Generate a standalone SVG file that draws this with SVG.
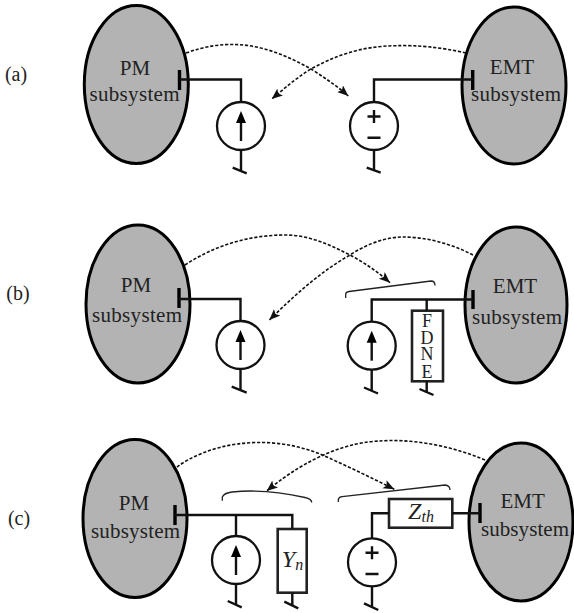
<svg xmlns="http://www.w3.org/2000/svg" width="574" height="613" viewBox="0 0 574 613">
<style>
text{font-family:"Liberation Serif","Times New Roman",serif;fill:#222;font-size:21px;text-anchor:middle}
.lab{font-size:20px}
.let{font-size:18px}
.el{fill:#b3b3b3;stroke:#000;stroke-width:3}
.w{fill:none;stroke:#111;stroke-width:2.4}
.bar{fill:none;stroke:#000;stroke-width:3.4}
.src{fill:#fff;stroke:#111;stroke-width:2.3}
.box{fill:#fff;stroke:#222;stroke-width:2.6}
.d{fill:none;stroke:#111;stroke-width:1.6;stroke-dasharray:3.2 1.8}
.b{fill:none;stroke:#222;stroke-width:1.3}
.i{font-style:italic;font-size:24px}
.s{font-size:16px}
</style>
<defs>
<marker id="ah" markerUnits="userSpaceOnUse" markerWidth="12" markerHeight="10" refX="11" refY="4.500" orient="auto"><path d="M0 0L11 4.500L0 9L2.500 4.500Z" fill="#111"/></marker>
<g id="cs"><circle class="src" r="24"/><path d="M0 15V-6" class="w"/><path d="M0 -15L-5 -3L5 -3Z" fill="#000"/></g>
<g id="vs"><circle class="src" r="24"/><path d="M-6.500 -9.500H6.500M0 -16V-3M-6.500 11.700H6.500" class="w"/></g>
</defs>
<g id="labels">
<text x="16" y="81" class="lab">(a)</text>
<text x="18" y="300" class="lab">(b)</text>
<text x="19" y="525" class="lab">(c)</text>
</g>
<g id="pm-a"><ellipse class="el" cx="136.300" cy="84.500" rx="52" ry="79"/><path class="bar" d="M179.500 70V90"/><text x="135" y="75">PM</text><text x="134.500" y="101" textLength="90" lengthAdjust="spacing">subsystem</text></g>
<g id="emt-a"><ellipse class="el" cx="514" cy="85.500" rx="52" ry="78.500"/><path class="bar" d="M472.700 70V90"/><text x="512" y="74">EMT</text><text x="516" y="101" textLength="90" lengthAdjust="spacing">subsystem</text></g>
<g id="src-a1"><use href="#cs" x="241" y="126"/></g>
<g id="src-a2"><use href="#vs" x="374" y="126"/></g>
<g id="pm-b"><ellipse class="el" cx="138" cy="304" rx="52" ry="79"/><path class="bar" d="M179 288V308"/><text x="136" y="291.500">PM</text><text x="137" y="322" textLength="90" lengthAdjust="spacing">subsystem</text></g>
<g id="emt-b"><ellipse class="el" cx="516" cy="305" rx="51" ry="78"/><path class="bar" d="M473 290V309"/><text x="515" y="293">EMT</text><text x="517" y="324" textLength="90" lengthAdjust="spacing">subsystem</text></g>
<g id="src-b1"><use href="#cs" x="240.500" y="345"/></g>
<g id="src-b2"><use href="#cs" x="371.700" y="345.700"/></g>
<g id="fdne"><rect class="box" x="412" y="310.700" width="31" height="70.600"/><text class="let" x="427 427 427 427" y="327 344 360 378">FDNE</text></g>
<g id="pm-c"><ellipse class="el" cx="135" cy="518.500" rx="52" ry="79"/><path class="bar" d="M175 505V525"/><text x="134" y="510">PM</text><text x="135.500" y="538" textLength="89" lengthAdjust="spacing">subsystem</text></g>
<g id="emt-c"><ellipse class="el" cx="521" cy="522" rx="52" ry="79"/><path class="bar" d="M480 503V523"/><text x="522.700" y="508">EMT</text><text x="525" y="536" textLength="88" lengthAdjust="spacing">subsystem</text></g>
<g id="src-c1"><use href="#cs" x="236" y="560"/></g>
<g id="yn"><rect class="box" x="277.700" y="529" width="29" height="63.700"/><text x="292.500" y="566.500" class="i">Y<tspan class="s" dy="3">n</tspan></text></g>
<g id="src-c2"><use href="#vs" x="372" y="562.300"/></g>
<g id="zth"><rect class="box" x="389" y="499" width="63.300" height="28.700"/><text x="421" y="519" class="i">Z<tspan class="s" dy="3">th</tspan></text></g>
<g id="connectors">
<path class="d" marker-end="url(#ah)" d="M186 53C205 46 222 44 235 44.500C262 45 288 56 311 69C325 78 337 86 348.300 96"/>
<path class="d" marker-end="url(#ah)" d="M466 53C440 47 415 45 397 45.700C360 46 335 56 311 69C296 78 285 88 271.700 99"/>
<path class="d" marker-end="url(#ah)" d="M185 265C215 245 250 235 285 235C310 235 330 245 350 255C365 263 378 272 390 282.700"/>
<path class="d" marker-end="url(#ah)" d="M473 255C450 243 425 237 403 237C385 237 365 245 350 255C320 272 295 295 269.300 320"/>
<path class="d" marker-end="url(#ah)" d="M177 467C205 446 262 431 320 454C345 465 370 477 394.300 489.300"/>
<path class="d" marker-end="url(#ah)" d="M485 460C445 443 405 439 380 441C350 442 310 455 266.700 491"/>
<path class="w" d="M180 79.500H241V102M241 150V170"/>
<path class="w" d="M473 79.500H374V102M374 150V170"/>
<path class="w" d="M179 299H240.500V321M240.500 369V390"/>
<path class="w" d="M473 299.500H371.700V321.700M371.700 369.700V391M426.700 299.500V310.700M426.700 381.300V393"/>
<path class="w" d="M175 515H292.300V529M236 515V536M236 584V604M292.300 592.700V605"/>
<path class="w" d="M372 538.300V513.300H389M452.300 513.300H480M372 586.300V607"/>
<path class="w" d="M232.700 167.700L246.700 173.300M366.700 167.700L380.700 172.700M231.700 386.700L246.700 392.700M364 387.500L378 393.500M419.500 389L433.500 395M227.700 601L241.700 607.300M284.300 601.700L298.300 608.300M364 603.300L378.300 610"/>
<path class="b" d="M345.700 298V294Q346 292 349 291.500L431 281Q435 281 435 285.500"/>
<path class="b" d="M222.300 500.700V497Q224 493 232 492C260 489 285 493 305 497.500Q311.700 499 311.700 502.500"/>
<path class="b" d="M338.300 502V499.500Q339 497 342 496.700L445 485Q450 485.500 450 490"/>
</g>
</svg>
